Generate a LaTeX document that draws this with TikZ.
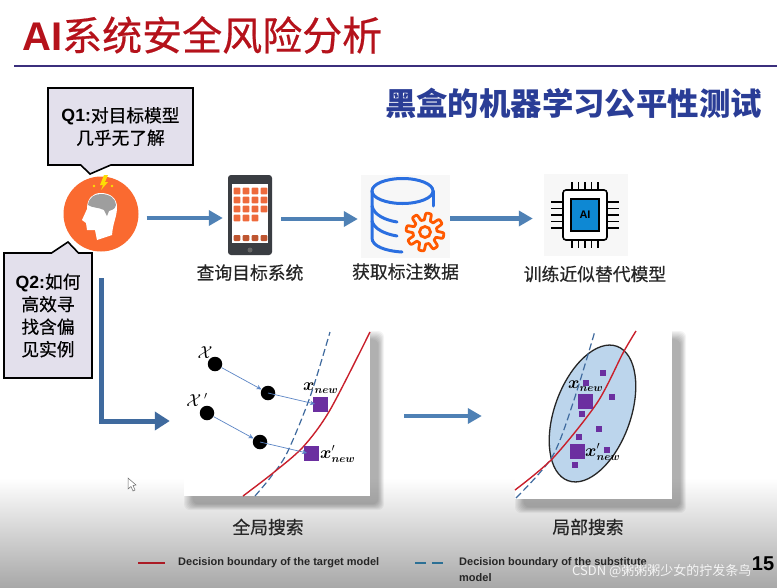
\documentclass[tikz,border=0pt]{standalone}
\usepackage{amsmath}
\usepackage{fontspec}
\setmainfont{Liberation Sans}
\newfontfamily\cjk{Noto Sans CJK SC}
\newfontfamily\cjkmid{Noto Sans CJK SC}[FakeBold=0.5]
\usetikzlibrary{arrows.meta, positioning, shapes.geometric, shapes.callouts}
\definecolor{titlered}{HTML}{B5121B}
\definecolor{rulenavy}{HTML}{3B2F7D}
\definecolor{subblue}{HTML}{2A3D96}
\definecolor{flowblue}{HTML}{4F81B5}
\definecolor{flowdark}{HTML}{3F6A9E}
\definecolor{calloutfill}{HTML}{E3E0EC}
\definecolor{headorange}{HTML}{FA6A30}
\definecolor{appgrid}{HTML}{EE6A3C}
\definecolor{dbblue}{HTML}{2B6FE0}
\definecolor{purplepoint}{HTML}{6B2FA0}
\definecolor{curvered}{HTML}{C9202C}
\definecolor{dashblue}{HTML}{3F6A9E}
\definecolor{stepblue}{HTML}{5B85C5}
\definecolor{ellipsefill}{HTML}{BCD5EC}
\newcommand{\softshadow}[4]{%
  \foreach \s in {0,2,...,14}
    \fill[black, opacity=.045, rounded corners=6pt] (#1+\s*.6,#2+\s*.6) rectangle (#3+14-\s*.4,#4+14-\s*.4);
}
\begin{document}
\begin{tikzpicture}[
    x=1pt, y=-1pt,
    titletext/.style={text=titlered, inner sep=0pt, font=\fontsize{40}{44}\selectfont},
    subtitle/.style={text=subblue, inner sep=0pt, font=\fontsize{31.4}{34}\selectfont\cjk\bfseries},
    qbox/.style={rectangle callout, draw=black, line width=1.6pt, fill=calloutfill, align=center, inner sep=0pt,
        callout pointer width=30pt, font=\fontsize{17.7}{22.5}\selectfont},
    caption/.style={inner sep=0pt, text=black!85, font=\fontsize{17.8}{20}\selectfont\cjkmid},
    flow/.style={-{Triangle[length=14pt, width=15pt]}, line width=4.5pt, flowblue},
    flowl/.style={flow, flowdark, line width=5pt, -{Triangle[length=15pt, width=18pt]}},
    iconbg/.style={rectangle, inner sep=0pt, fill=black!3},
    panel/.style={rectangle, inner sep=0pt, fill=white},
    dot/.style={circle, fill=black, inner sep=0pt, minimum size=14.5pt},
    bigpoint/.style={rectangle, fill=purplepoint, inner sep=0pt, minimum size=15pt},
    smallpoint/.style={rectangle, fill=purplepoint, inner sep=0pt, minimum size=6pt},
    stepline/.style={-{Stealth[length=5pt, width=4.5pt]}, stepblue, line width=.7pt},
    targetcurve/.style={curvered, line width=1.4pt},
    subcurve/.style={dashblue, line width=1.2pt, dash pattern=on 7pt off 3.5pt},
    mathlabel/.style={inner sep=0pt, font=\fontsize{16}{18}\selectfont},
    legendtext/.style={inner sep=0pt, anchor=west, text=black!85, font=\fontsize{11}{16}\selectfont\bfseries}
]
    \useasboundingbox (0,0) rectangle (777,587);
    \fill[white] (0,0) rectangle (777,587);
    \shade[top color=white, bottom color=black!34] (0,478) rectangle (777,587);

    % title
    \node[titletext, anchor=west] (title) at (22,35) {\textbf{AI}{\cjkmid 系统安全风险分析}};
    \draw[rulenavy, line width=2.6pt] (14,66) -- (777,66);
    \node[subtitle] (subtitle) at (573.5,103) {黑盒的机器学习公平性测试};

    % person with the two questions
    \node[circle, fill=headorange, inner sep=0pt, minimum size=75pt] (head) at (101,214) {};
    \fill[white] (82,220) -- (87,209) .. controls (87,198) and (93,193) .. (101,193) .. controls (111,193) and (117,199) .. (117,207)
        .. controls (117,217) and (113,222) .. (112,235) -- (97,240) -- (95,230) -- (87,230) -- (86,223) -- cycle;
    \fill[black!38] (88,205) .. controls (89,197) and (95,194) .. (101,194) .. controls (110,194) and (116,199) .. (116,205)
        .. controls (115,210) and (111,210) .. (109,211) -- (107,216) -- (104,210) .. controls (98,207) and (92,208) .. cycle;
    \fill[yellow!80!orange] (104,175) -- (100,185) -- (103,185) -- (101,190) -- (108,182) -- (105,182) -- (108,175) -- cycle;
    \foreach \a/\b in {94/186, 112/186}
        \fill[yellow!80!orange] (\a,\b) circle (1.4pt);

    \node[qbox, minimum width=145pt, minimum height=77pt, callout absolute pointer={(90,174)}] (qone) at (120.5,126.5)
        {\textbf{Q1:}{\cjkmid 对目标模型}\\{\cjkmid 几乎无了解}};
    \node[qbox, minimum width=88pt, minimum height=125pt, callout pointer width=27pt, callout absolute pointer={(68,242)}] (qtwo) at (48,315.5)
        {\textbf{Q2:}{\cjkmid 如何}\\{\cjkmid 高效寻}\\{\cjkmid 找含偏}\\{\cjkmid 见实例}};

    % phone
    \node[rectangle, rounded corners=3pt, fill=black!85!cyan, inner sep=0pt, minimum width=44pt, minimum height=80pt] (phone) at (250,215) {};
    \fill[white] (232,184) rectangle (268,243);
    \foreach \r/\cols in {191/4, 200/4, 209/4, 218/3}
        \foreach \c in {1,...,\cols}
            \fill[appgrid, rounded corners=1pt] (228+\c*9-3.4,\r-3.4) rectangle (228+\c*9+3.4,\r+3.4);
    \foreach \c in {1,...,4}
        \fill[appgrid!80!black, rounded corners=1pt] (228+\c*9-3.4,235) rectangle (228+\c*9+3.4,241);
    \fill[black!60] (250,250) circle (2.5pt);
    \node[caption, below=9pt of phone] (phonetext) {查询目标系统};

    % database with gear
    \node[iconbg, minimum width=89pt, minimum height=83pt] (database) at (405.5,216.5) {};
    \begin{scope}[dbblue, line width=3pt, line cap=round]
        \draw (402.5,191) ellipse (30.5pt and 12.5pt);
        \draw (372,191) -- (372,238) .. controls (372,246) and (385,251) .. (402,252);
        \draw (433,191) -- (433,206);
        \draw (372,206) .. controls (374,215) and (385,220) .. (397,222);
        \draw (372,221) .. controls (374,229) and (385,234) .. (397,236);
    \end{scope}
    \draw[orange!70!red, line width=2.8pt, fill=black!3, line join=round] plot[domain=0:360, samples=181]
        ({425+(15.5+3.5*tanh(3*sin(8*\x)))*cos(\x)},{232+(15.5+3.5*tanh(3*sin(8*\x)))*sin(\x)}) -- cycle;
    \draw[orange!70!red, line width=2.8pt] (425,232) circle (5.5pt);
    \node[caption, below=5pt of database] (databasetext) {获取标注数据};

    % chip
    \node[iconbg, minimum width=84pt, minimum height=82pt] (chip) at (586,215) {};
    \foreach \p in {-13,-6.5,0,6.5,13} {
        \draw[black, line width=1.4pt] (585+\p,182) -- (585+\p,192);
        \draw[black, line width=1.4pt] (585+\p,238) -- (585+\p,248);
        \draw[black, line width=1.4pt] (551,215+\p) -- (565,215+\p);
        \draw[black, line width=1.4pt] (605,215+\p) -- (619,215+\p);
    }
    \draw[black, line width=1.6pt, fill=white, rounded corners=3pt] (563,190) rectangle (607,240);
    \draw[black, line width=2pt, fill=cyan!70!blue] (571,199) rectangle (599,231);
    \node[inner sep=0pt, font=\fontsize{11}{12}\selectfont\bfseries] (chiplogo) at (585,215) {AI};
    \node[caption, anchor=center] (chiptext) at (595,274) {训练近似替代模型};

    % flow on the first row
    \draw[flow, shorten <=8pt, shorten >=5pt] ([yshift=-4pt]head.east) -- ([yshift=-3pt]phone.west);
    \draw[flow, shorten <=9pt, shorten >=3pt] ([yshift=-4pt]phone.east) -- ([yshift=-2.5pt]database.west);
    \draw[flow, shorten >=11pt] ([yshift=-2pt]database.east) -- ([yshift=-3.5pt]chip.west);

    % global search
    \softshadow{184}{331}{370}{496}
    \node[panel, minimum width=186pt, minimum height=165pt] (globalpanel) at (277,413.5) {};
    \coordinate (qstart) at (101,278);
    \draw[flowl, shorten >=14pt] (qstart) |- ([yshift=-7.5pt]globalpanel.west);
    \draw[subcurve] plot[smooth] coordinates {(255,496) (270,478) (287,453) (310,397) (330,332)};
    \draw[targetcurve] plot[smooth] coordinates {(243,496) (273,473) (303,447) (330,410) (370,332)};
    \node[dot] (xa) at (215,364) {};
    \node[dot] (xb) at (268,393) {};
    \node[dot] (ya) at (207,413) {};
    \node[dot] (yb) at (260,442) {};
    \node[bigpoint] (xnew) at (320,404) {};
    \node[bigpoint] (ynew) at (311,453) {};
    \draw[stepline] (xa) -- (xb);
    \draw[stepline] (ya) -- (yb);
    \draw[stepline] (xb.center) -- ([xshift=-5pt]xnew.center);
    \draw[stepline] (yb.center) -- ([xshift=-4pt]ynew.center);
    \node[mathlabel] (xtext) at (205,353) {$\mathcal{X}$};
    \node[mathlabel] (ytext) at (197,400) {$\mathcal{X}\,'$};
    \node[mathlabel, anchor=west] (xnewtext) at (303,388) {$\boldsymbol{x}_{\boldsymbol{new}}$};
    \node[mathlabel, anchor=west] (ynewtext) at (320,454) {$\boldsymbol{x}'_{\boldsymbol{new}}$};
    \node[caption, anchor=center] (globaltext) at (268,527) {全局搜索};

    % local search
    \softshadow{515}{331}{672}{499}
    \node[panel, minimum width=157pt, minimum height=168pt] (localpanel) at (593.5,415) {};
    \draw[flow, shorten <=34pt, shorten >=33pt] ([yshift=-2.5pt]globalpanel.east) -- ([yshift=-1pt]localpanel.west);
    \node[ellipse, draw=black!85, line width=1.3pt, fill=ellipsefill, inner sep=0pt, minimum width=143pt, minimum height=76pt, rotate=70] (searcharea) at (592.5,413.5) {};
    \draw[subcurve] plot[smooth] coordinates {(516,498) (552,457) (573,403) (595,331)};
    \draw[targetcurve] plot[smooth] coordinates {(515,490) (553,458) (597,403) (623,353) (636,331)};
    \foreach \px/\py [count=\i] in {603/373, 586/383, 612/397, 582/414, 599/429, 579/437, 607/450, 575/465}
        \node[smallpoint] (near\i) at (\px,\py) {};
    \node[bigpoint] (xlocal) at (585,401) {};
    \node[bigpoint] (ylocal) at (577,451) {};
    \node[mathlabel, anchor=west] (xlocaltext) at (568,386) {$\boldsymbol{x}_{\boldsymbol{new}}$};
    \node[mathlabel, anchor=west] (ylocaltext) at (585,452) {$\boldsymbol{x}'_{\boldsymbol{new}}$};
    \node[caption, anchor=center] (localtext) at (588,527) {局部搜索};

    % legend and footer
    \coordinate (legendredstart) at (138,563);
    \coordinate (legendredend) at (165,563);
    \coordinate (legenddashstart) at (415,563);
    \coordinate (legenddashend) at (443,563);
    \draw[curvered!85!black, line width=1.2pt] (legendredstart) -- (legendredend);
    \draw[dashblue!70!teal, line width=1.2pt, dash pattern=on 11pt off 6pt] (legenddashstart) -- (legenddashend);
    \node[legendtext] (legendred) at (178,563) {Decision boundary of the target model};
    \node[legendtext, align=left, anchor=north west] (legenddash) at (459,557) {Decision boundary of the substitute\\model};
    \node[inner sep=0pt, font=\fontsize{20}{22}\selectfont\bfseries] (pagenum) at (763,564) {15};
    \node[inner sep=0pt, anchor=west, text=white, opacity=.85, font=\fontsize{13}{15}\selectfont\cjk] (watermark) at (572,571) {CSDN @粥粥粥少女的拧发条鸟};

    % mouse pointer
    \draw[black!60, fill=white, line width=.5pt] (128,478) -- (128,489) -- (131,486.5) -- (133,491) -- (135,490) -- (133,485.5) -- (136,485) -- cycle;
\end{tikzpicture}
\end{document}
